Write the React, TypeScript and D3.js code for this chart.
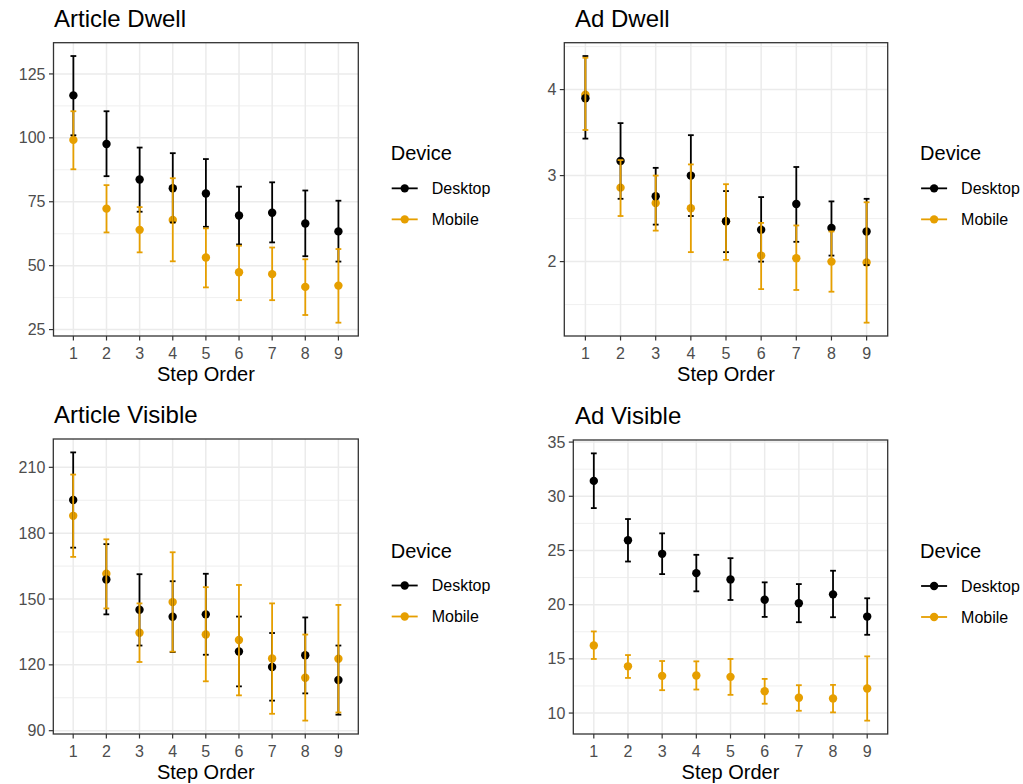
import React from "react";
import * as d3 from "d3";

// Step order (discrete x) and device groups
const steps = [1, 2, 3, 4, 5, 6, 7, 8, 9];
const devices = ["Desktop", "Mobile"];
const deviceColors = ["#000000", "#E69F00"];

// Article Dwell
const articleDwellDesktopMean = [116.6, 97.6, 83.7, 80.3, 78.2, 69.6, 70.7, 66.5, 63.4];
const articleDwellDesktopLow = [101.0, 85.0, 71.1, 66.9, 65.2, 58.3, 59.1, 53.7, 51.6];
const articleDwellDesktopHigh = [132.0, 110.4, 96.2, 94.0, 91.7, 80.9, 82.6, 79.4, 75.4];
const articleDwellMobileMean = [99.2, 72.3, 64.0, 67.9, 53.2, 47.4, 46.7, 41.7, 42.2];
const articleDwellMobileLow = [87.7, 63.0, 55.2, 51.7, 41.5, 36.5, 36.5, 30.7, 27.7];
const articleDwellMobileHigh = [110.4, 81.5, 72.9, 84.2, 64.6, 57.8, 57.1, 52.5, 56.5];
const articleDwellTicks = [25, 50, 75, 100, 125];

// Ad Dwell
const adDwellDesktopMean = [3.9, 3.17, 2.76, 3.0, 2.47, 2.37, 2.67, 2.39, 2.35];
const adDwellDesktopLow = [3.43, 2.73, 2.43, 2.53, 2.11, 2.0, 2.23, 2.07, 1.96];
const adDwellDesktopHigh = [4.39, 3.61, 3.09, 3.47, 2.82, 2.75, 3.1, 2.7, 2.73];
const adDwellMobileMean = [3.94, 2.86, 2.68, 2.62, 2.47, 2.07, 2.04, 2.0, 1.99];
const adDwellMobileLow = [3.53, 2.53, 2.36, 2.11, 2.02, 1.68, 1.67, 1.65, 1.29];
const adDwellMobileHigh = [4.37, 3.18, 3.0, 3.13, 2.9, 2.45, 2.42, 2.35, 2.69];
const adDwellTicks = [2, 3, 4];

// Article Visible
const articleVisibleDesktopMean = [195.1, 158.9, 145.1, 141.9, 143.0, 126.1, 119.0, 124.4, 113.1];
const articleVisibleDesktopLow = [173.4, 143.0, 128.8, 125.8, 124.6, 110.2, 103.7, 107.0, 97.3];
const articleVisibleDesktopHigh = [216.8, 175.0, 161.3, 158.1, 161.5, 142.0, 134.5, 141.6, 128.8];
const articleVisibleMobileMean = [187.9, 161.5, 134.6, 148.6, 133.8, 131.3, 122.9, 114.1, 122.8];
const articleVisibleMobileLow = [169.2, 145.7, 121.3, 126.0, 112.5, 106.1, 97.7, 94.6, 98.3];
const articleVisibleMobileHigh = [206.7, 177.2, 148.0, 171.3, 155.4, 156.4, 148.0, 133.8, 147.3];
const articleVisibleTicks = [90, 120, 150, 180, 210];

// Ad Visible
const adVisibleDesktopMean = [31.42, 25.94, 24.69, 22.91, 22.33, 20.46, 20.13, 20.95, 18.9];
const adVisibleDesktopLow = [28.91, 23.98, 22.82, 21.23, 20.43, 18.87, 18.38, 18.84, 17.22];
const adVisibleDesktopHigh = [33.96, 27.9, 26.58, 24.6, 24.29, 22.06, 21.9, 23.13, 20.59];
const adVisibleMobileMean = [16.24, 14.31, 13.43, 13.46, 13.34, 12.02, 11.41, 11.35, 12.26];
const adVisibleMobileLow = [14.99, 13.24, 12.11, 12.17, 11.68, 10.86, 10.21, 10.06, 9.3];
const adVisibleMobileHigh = [17.53, 15.35, 14.8, 14.77, 14.99, 13.15, 12.57, 12.6, 15.23];
const adVisibleTicks = [10, 15, 20, 25, 30, 35];

type Series = { mean: number[]; low: number[]; high: number[] };
type PanelSpec = {
  title: string;
  series: Series[];
  ticks: number[];
  box: { left: number; right: number; top: number; bottom: number; titleX: number };
};

const panels: PanelSpec[] = [
  {
    title: "Article Dwell",
    series: [
      { mean: articleDwellDesktopMean, low: articleDwellDesktopLow, high: articleDwellDesktopHigh },
      { mean: articleDwellMobileMean, low: articleDwellMobileLow, high: articleDwellMobileHigh },
    ],
    ticks: articleDwellTicks,
    box: { left: 53.5, right: 358.3, top: 42.7, bottom: 336, titleX: 54 },
  },
  {
    title: "Ad Dwell",
    series: [
      { mean: adDwellDesktopMean, low: adDwellDesktopLow, high: adDwellDesktopHigh },
      { mean: adDwellMobileMean, low: adDwellMobileLow, high: adDwellMobileHigh },
    ],
    ticks: adDwellTicks,
    box: { left: 564.3, right: 887.7, top: 42.7, bottom: 336, titleX: 575 },
  },
  {
    title: "Article Visible",
    series: [
      { mean: articleVisibleDesktopMean, low: articleVisibleDesktopLow, high: articleVisibleDesktopHigh },
      { mean: articleVisibleMobileMean, low: articleVisibleMobileLow, high: articleVisibleMobileHigh },
    ],
    ticks: articleVisibleTicks,
    box: { left: 53.3, right: 358.3, top: 439, bottom: 734, titleX: 54 },
  },
  {
    title: "Ad Visible",
    series: [
      { mean: adVisibleDesktopMean, low: adVisibleDesktopLow, high: adVisibleDesktopHigh },
      { mean: adVisibleMobileMean, low: adVisibleMobileLow, high: adVisibleMobileHigh },
    ],
    ticks: adVisibleTicks,
    box: { left: 573.3, right: 887.7, top: 440, bottom: 734, titleX: 575 },
  },
];

const FONT = "'Liberation Sans', Arial, Helvetica, sans-serif";
const GRID = "#ebebeb";
const BORDER = "#333333";
const TICK_TEXT = "#4d4d4d";

function Panel({ spec }: { spec: PanelSpec }) {
  const { left, right, top, bottom, titleX } = spec.box;
  const all = spec.series.flatMap((s) => [...s.low, ...s.high]);
  const [lo, hi] = d3.extent(all) as [number, number];
  const pad = (hi - lo) * 0.05;
  const y = d3.scaleLinear().domain([lo - pad, hi + pad]).range([bottom, top]);
  const x = d3.scaleLinear().domain([0.4, steps.length + 0.6]).range([left, right]);

  const step = spec.ticks[1] - spec.ticks[0];
  const minor: number[] = [];
  for (let v = spec.ticks[0] - step / 2; v <= hi + pad; v += step) {
    if (v >= lo - pad) minor.push(v);
  }

  const capHalf = 2.9;
  const line = d3.line<[number, number]>();
  // means drawn underneath the intervals, mobile first so desktop sits above it
  const pointOrder = [1, 0];

  return (
    <g>
      <text x={titleX} y={top - 16} fontFamily={FONT} fontSize={24} fill="#000">
        {spec.title}
      </text>
      <rect x={left} y={top} width={right - left} height={bottom - top} fill="#fff" />
      {minor.map((v) => (
        <line key={"mn" + v} x1={left} x2={right} y1={y(v)} y2={y(v)} stroke={GRID} strokeWidth={0.8} />
      ))}
      {spec.ticks.map((v) => (
        <line key={"mj" + v} x1={left} x2={right} y1={y(v)} y2={y(v)} stroke={GRID} strokeWidth={1.5} />
      ))}
      {steps.map((s) => (
        <line key={"vx" + s} x1={x(s)} x2={x(s)} y1={top} y2={bottom} stroke={GRID} strokeWidth={1.5} />
      ))}
      {pointOrder.map((gi) => (
        <g key={"pt" + gi} fill={deviceColors[gi]}>
          {steps.map((st, i) => (
            <circle key={st} cx={x(st)} cy={y(spec.series[gi].mean[i])} r={4.2} />
          ))}
        </g>
      ))}
      {spec.series.map((s, gi) => (
        <g key={"eb" + gi} stroke={deviceColors[gi]} strokeWidth={1.8} fill="none">
          {steps.map((st, i) => (
            <g key={st}>
              <path d={line([[x(st), y(s.low[i])], [x(st), y(s.high[i])]]) || ""} />
              <path d={line([[x(st) - capHalf, y(s.high[i])], [x(st) + capHalf, y(s.high[i])]]) || ""} />
              <path d={line([[x(st) - capHalf, y(s.low[i])], [x(st) + capHalf, y(s.low[i])]]) || ""} />
            </g>
          ))}
        </g>
      ))}
      <rect x={left} y={top} width={right - left} height={bottom - top} fill="none" stroke={BORDER} strokeWidth={1.3} />
      {/* y axis */}
      {spec.ticks.map((v) => (
        <g key={"yt" + v}>
          <line x1={left - 4.5} x2={left} y1={y(v)} y2={y(v)} stroke={BORDER} strokeWidth={1.2} />
          <text x={left - 8} y={y(v)} dy="0.35em" textAnchor="end" fontFamily={FONT} fontSize={16} fill={TICK_TEXT}>
            {v}
          </text>
        </g>
      ))}
      {/* x axis */}
      {steps.map((s) => (
        <g key={"xt" + s}>
          <line x1={x(s)} x2={x(s)} y1={bottom} y2={bottom + 4.5} stroke={BORDER} strokeWidth={1.2} />
          <text x={x(s)} y={bottom + 22.5} textAnchor="middle" fontFamily={FONT} fontSize={16} fill={TICK_TEXT}>
            {s}
          </text>
        </g>
      ))}
      <text x={(left + right) / 2} y={bottom + 45} textAnchor="middle" fontFamily={FONT} fontSize={20} fill="#000">
        Step Order
      </text>
      <Legend x={right + 32.4} cy={(top + bottom) / 2 - 1} />
    </g>
  );
}

function Legend({ x, cy }: { x: number; cy: number }) {
  return (
    <g>
      <text x={x} y={cy - 28} fontFamily={FONT} fontSize={20} fill="#000">
        Device
      </text>
      {devices.map((d, i) => {
        const yy = cy + i * 31;
        return (
          <g key={d}>
            <line x1={x + 1} x2={x + 27} y1={yy} y2={yy} stroke={deviceColors[i]} strokeWidth={1.8} />
            <circle cx={x + 14} cy={yy} r={4.2} fill={deviceColors[i]} />
            <text x={x + 41} y={yy} dy="0.35em" fontFamily={FONT} fontSize={16} fill="#000">
              {d}
            </text>
          </g>
        );
      })}
    </g>
  );
}

export default function App() {
  return (
    <svg
      width={1023}
      height={784}
      style={{ position: "absolute", left: 0, top: 0, background: "#fff" }}
    >
      <rect width={1023} height={784} fill="#fff" />
      {panels.map((p) => (
        <Panel key={p.title} spec={p} />
      ))}
    </svg>
  );
}
